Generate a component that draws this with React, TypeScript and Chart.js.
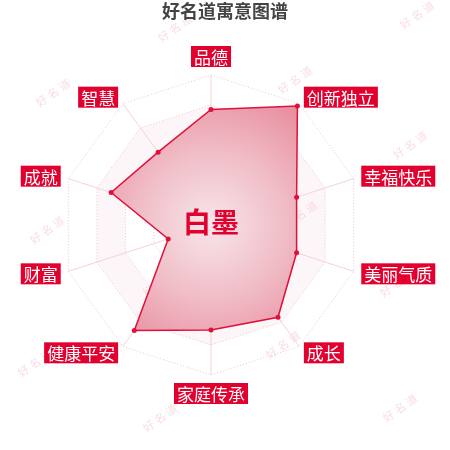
import React, { useEffect, useRef } from 'react';
import { Chart, ChartType, Plugin, registerables } from 'chart.js';

Chart.register(...registerables);

const titleText = '好名道寓意图谱';
const nameText = '白墨';
const watermarkText = '好名道';
const categories = ['品德', '创新独立', '幸福快乐', '美丽气质', '成长', '家庭传承', '健康平安', '财富', '成就', '智慧'];
const scores = [77, 98, 60, 60, 76, 70, 87, 30, 70, 60];

// faint stamp spots behind the chart
const stampSpots: [number, number][] = [
  [175, 28], [417, 15], [53, 93], [295, 80], [175, 150], [410, 145],
  [47, 230], [300, 215], [160, 283], [397, 283], [35, 363], [283, 345],
  [160, 418], [400, 408],
];

const RED = '#e2002f';
const FONT = '"Noto Sans CJK SC", "Noto Sans", sans-serif';

const decorPlugin: Plugin = {
  id: 'decor',
  beforeDraw(chart) {
    const ctx = chart.ctx;
    const s: any = chart.scales.r;
    if (!s) return;

    // stamps
    ctx.save();
    ctx.fillStyle = 'rgba(232, 150, 170, 0.32)';
    ctx.font = `11px ${FONT}`;
    ctx.textAlign = 'center';
    ctx.textBaseline = 'middle';
    stampSpots.forEach(([x, y]) => {
      ctx.save();
      ctx.translate(x, y);
      ctx.rotate(-35 * Math.PI / 180);
      [...watermarkText].forEach((ch, k) => ctx.fillText(ch, (k - 1) * 14, 0));
      ctx.restore();
    });
    ctx.restore();

    // one shaded band between rings
    const n = categories.length;
    const r1 = s.getDistanceFromCenterForValue(60);
    const r2 = s.getDistanceFromCenterForValue(80);
    ctx.save();
    ctx.beginPath();
    for (let i = 0; i < n; i++) {
      const p = s.getPointPosition(i, r2);
      i === 0 ? ctx.moveTo(p.x, p.y) : ctx.lineTo(p.x, p.y);
    }
    ctx.closePath();
    for (let i = 0; i < n; i++) {
      const p = s.getPointPosition(i, r1);
      i === 0 ? ctx.moveTo(p.x, p.y) : ctx.lineTo(p.x, p.y);
    }
    ctx.closePath();
    ctx.fillStyle = 'rgba(240, 185, 200, 0.13)';
    ctx.fill('evenodd');
    ctx.restore();
  },
  afterDraw(chart) {
    const ctx = chart.ctx;
    const s: any = chart.scales.r;
    if (!s) return;
    const n = categories.length;

    // title
    ctx.save();
    ctx.font = `bold 18px ${FONT}`;
    ctx.fillStyle = '#444';
    ctx.textAlign = 'center';
    ctx.textBaseline = 'middle';
    ctx.fillText(titleText, 225, 11);
    ctx.restore();

    // name in the middle
    ctx.save();
    ctx.font = `bold 28px ${FONT}`;
    ctx.fillStyle = RED;
    ctx.textAlign = 'center';
    ctx.textBaseline = 'middle';
    ctx.fillText(nameText, s.xCenter, s.yCenter - 3);
    ctx.restore();

    // axis names in red boxes
    ctx.save();
    ctx.font = `17px ${FONT}`;
    ctx.textBaseline = 'middle';
    ctx.textAlign = 'left';
    const boxH = 21;
    categories.forEach((label, i) => {
      const p = s.getPointPosition(i, s.drawingArea + 8);
      const w = ctx.measureText(label).width + 6;
      let left: number;
      let top: number;
      if (i === 0) {
        left = p.x - w / 2;
        top = p.y - boxH;
      } else if (i === n / 2) {
        left = p.x - w / 2;
        top = p.y;
      } else {
        top = p.y - boxH / 2;
        left = i < n / 2 ? p.x : p.x - w;
      }
      ctx.fillStyle = RED;
      ctx.fillRect(left, top, w, boxH);
      ctx.fillStyle = '#fff';
      ctx.fillText(label, left + 3, top + boxH / 2 + 1);
    });
    ctx.restore();
  },
};

export default function App() {
  const canvasRef = useRef<HTMLCanvasElement>(null);

  useEffect(() => {
    if (!canvasRef.current) return;
    const chart = new Chart(canvasRef.current, {
      type: 'radar' as ChartType,
      data: {
        labels: categories,
        datasets: [
          {
            data: scores,
            borderColor: '#e0103a',
            borderWidth: 1.5,
            pointRadius: 2.5,
            pointBackgroundColor: '#e0103a',
            pointBorderWidth: 0,
            fill: true,
            backgroundColor: (c: any) => {
              const ch = c.chart;
              const s: any = ch.scales.r;
              if (!s || !ch.chartArea) return 'rgba(236,160,175,0.8)';
              const g = ch.ctx.createRadialGradient(s.xCenter, s.yCenter, 0, s.xCenter, s.yCenter, s.drawingArea);
              g.addColorStop(0, '#f8e6ea');
              g.addColorStop(0.5, '#f0bcc6');
              g.addColorStop(1, '#e8899b');
              return g;
            },
          },
        ],
      },
      options: {
        responsive: true,
        maintainAspectRatio: false,
        animation: false,
        layout: { padding: { left: 61, right: 89, top: 75, bottom: 75 } },
        plugins: {
          legend: { display: false },
          tooltip: { enabled: false },
        },
        scales: {
          r: {
            min: 0,
            max: 100,
            ticks: { display: false, stepSize: 20 },
            pointLabels: { display: false },
            grid: { color: '#efc3cc', lineWidth: 1 },
            border: { dash: [1, 2] },
            angleLines: { color: '#f2d2d9', lineWidth: 1 },
          },
        },
      } as any,
      plugins: [decorPlugin],
    });
    return () => chart.destroy();
  }, []);

  return (
    <div style={{ position: 'absolute', left: 0, top: 0, width: 450, height: 450, background: '#fff' }}>
      <canvas ref={canvasRef} />
    </div>
  );
}
